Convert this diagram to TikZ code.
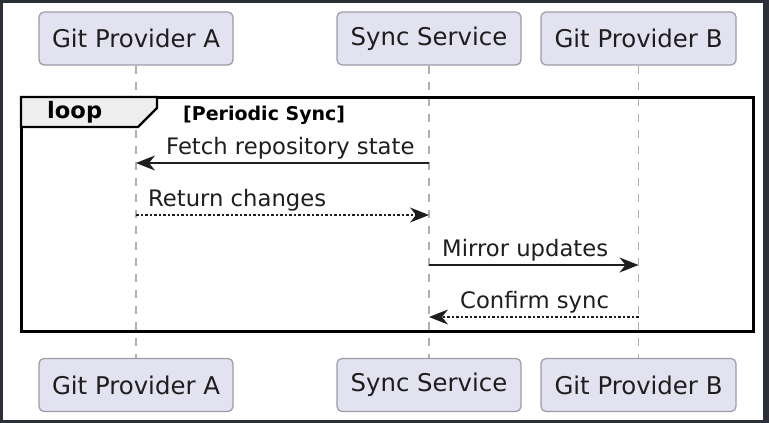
\documentclass[tikz,border=0pt]{standalone}
\usepackage{fontspec}
\setmainfont{DejaVu Sans}
\usepackage{xcolor}
\usetikzlibrary{positioning, arrows.meta, calc}
\definecolor{FrameDark}{HTML}{2B2F38}
\definecolor{ActorFill}{HTML}{E2E2F0}
\definecolor{ActorLine}{HTML}{9C9CA8}
\definecolor{LifeGray}{HTML}{B0B0B0}
\definecolor{InkDark}{HTML}{1E1E1E}
\definecolor{TabFill}{HTML}{EEEEEE}

\tikzset{
  actor/.style={draw=ActorLine, line width=1.2pt, rounded corners=5pt,
    fill=ActorFill, text=InkDark, minimum height=53pt, inner sep=0pt,
    font=\fontsize{24.4}{28}\selectfont},
  lifeline/.style={draw=LifeGray, line width=1.8pt, dash pattern=on 8pt off 8pt},
  msg/.style={draw=InkDark, line width=1.6pt,
    -{Stealth[length=19pt, width=15pt, inset=6pt]}},
  reply/.style={msg, dash pattern=on 2.5pt off 2pt},
  msglabel/.style={anchor=base west, inner sep=0pt, text=InkDark,
    font=\fontsize{22.7}{26}\selectfont}
}

\begin{document}
\begin{tikzpicture}[x=1pt, y=-1pt]
  % page and outer frame
  \fill[FrameDark] (0,0) rectangle (769,423);
  \fill[white] (3,3) rectangle (763,420);

  % participants
  \node[actor, minimum width=194pt] (provA) at (136,38.5) {Git Provider A};
  \node[actor, minimum width=184pt] (sync) at (429,38.5) {Sync Service};
  \node[actor, minimum width=195pt] (provB) at (638.5,38.5) {Git Provider B};
  \node[actor, minimum width=194pt] (provAend) at (136,385) {Git Provider A};
  \node[actor, minimum width=184pt] (syncend) at (429,385) {Sync Service};
  \node[actor, minimum width=195pt] (provBend) at (638.5,385) {Git Provider B};

  \draw[lifeline] (provA.south) -- (provAend.north);
  \draw[lifeline] (sync.south) -- (syncend.north);
  \draw[lifeline] (provB.south) -- (provBend.north);

  % loop fragment
  \draw[black, line width=3pt] (21,97) rectangle (753,331);
  \draw[black, line width=2.2pt, fill=TabFill]
    (21,97) -- (157,97) -- (157,108) -- (138,127) -- (21,127) -- cycle;
  \node[anchor=base west, inner sep=0pt, font=\bfseries\fontsize{22.6}{26}\selectfont]
    (looptag) at (47,118) {loop};
  \node[anchor=base west, inner sep=0pt, font=\bfseries\fontsize{19}{22}\selectfont]
    (loopguard) at (183,120) {[Periodic Sync]};

  % messages
  \draw[msg] (sync.south |- 0,163) -- (provA.south |- 0,163);
  \node[msglabel] (fetch) at (166,154.3) {Fetch repository state};

  \draw[reply] (provA.south |- 0,215) -- (sync.south |- 0,215);
  \node[msglabel] (changes) at (148,206.7) {Return changes};

  \draw[msg] (sync.south |- 0,265) -- (provB.south |- 0,265);
  \node[msglabel] (mirror) at (442,256.7) {Mirror updates};

  \draw[reply] (provB.south |- 0,317) -- (sync.south |- 0,317);
  \node[msglabel] (confirm) at (460,308.3) {Confirm sync};
\end{tikzpicture}
\end{document}
